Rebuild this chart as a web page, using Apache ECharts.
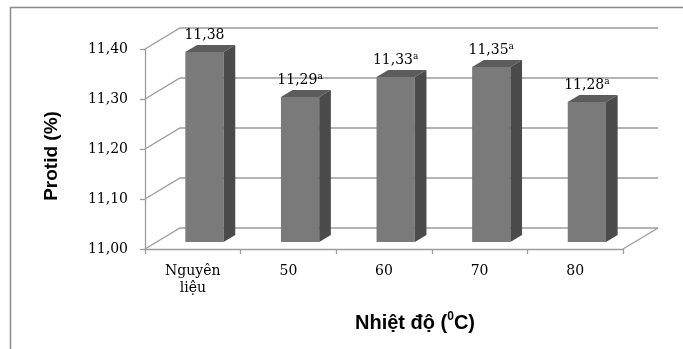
<!DOCTYPE html>
<html>
<head>
<meta charset="utf-8">
<script src="https://cdn.jsdelivr.net/npm/echarts@6/dist/echarts.min.js"></script>
<style>
  html, body { margin: 0; padding: 0; background: #fff; }
  #chart { width: 683px; height: 349px; }
</style>
</head>
<body>
<div id="chart"></div>
<script>
// Protein content of the product at each drying temperature
const categories = ['Nguyên\nliệu', '50', '60', '70', '80'];
const protid = [11.38, 11.29, 11.33, 11.35, 11.28];
const significance = ['', 'a', 'a', 'a', 'a'];
const yTicks = [11.0, 11.1, 11.2, 11.3, 11.4];

// pseudo-3D depth of the plot box (pixels to the back wall)
const DX = 35, DY = -21;
const SERIF = '"DejaVu Serif", "Liberation Serif", serif';
const SANS = '"Liberation Sans", Arial, sans-serif';
const GRID_COLOR = '#9c9c9c';

const fmt = v => v.toFixed(2).replace('.', ',');

function renderWall(params, api) {
  const cs = params.coordSys;
  const v = api.value(1);
  const y = api.coord([0, v])[1];
  const x0 = cs.x, x1 = cs.x + cs.width;
  const children = [{
    type: 'polyline',
    shape: { points: [[x0, y], [x0 + DX, y + DY], [x1 + DX, y + DY]] },
    style: { stroke: GRID_COLOR, lineWidth: 1.3, fill: null }
  }];
  if (params.dataIndex === 0) {
    children.push({
      type: 'line',
      shape: { x1: x1, y1: y, x2: x1 + DX, y2: y + DY },
      style: { stroke: GRID_COLOR, lineWidth: 1.3 }
    });
  }
  return { type: 'group', children };
}

function renderBar(params, api) {
  const idx = api.value(0);
  const v = api.value(1);
  const top = api.coord([idx, v]);
  const base = api.coord([idx, yTicks[0]]);
  const band = api.size([1, 0])[0];
  const bw = band * 0.4;
  // bar sits in the middle third of the depth
  const ox = DX / 3, oy = DY / 3;
  const L = top[0] - bw / 2 + ox, R = top[0] + bw / 2 + ox;
  const T = top[1] + oy, B = base[1] + oy;
  const sup = significance[idx];
  return {
    type: 'group',
    children: [
      { type: 'rect', shape: { x: L, y: T, width: bw, height: B - T },
        style: { fill: '#7a7a7a' } },
      { type: 'polygon', shape: { points: [[L, T], [R, T], [R + ox, T + oy], [L + ox, T + oy]] },
        style: { fill: '#5c5c5c' } },
      { type: 'polygon', shape: { points: [[R, T], [R + ox, T + oy], [R + ox, B + oy], [R, B]] },
        style: { fill: '#4b4b4b' } },
      { type: 'text',
        style: {
          x: (L + R) / 2, y: T + oy - 2,
          align: 'center', verticalAlign: 'bottom',
          text: '{v|' + fmt(v) + '}' + (sup ? '{s|' + sup + '}' : ''),
          rich: {
            v: { fontFamily: SERIF, fontSize: 14, lineHeight: 16, fill: '#000' },
            s: { fontFamily: SERIF, fontSize: 9, lineHeight: 16, verticalAlign: 'top', fill: '#000', padding: [0, 0, 6, 0] }
          }
        } }
    ]
  };
}

const chart = echarts.init(document.getElementById('chart'), null, { renderer: 'canvas' });
chart.setOption({
  animation: false,
  backgroundColor: '#fff',
  grid: { left: 145, top: 49, width: 478, height: 200, containLabel: false },
  xAxis: {
    type: 'category',
    data: categories,
    axisLine: { show: true, lineStyle: { color: GRID_COLOR, width: 1.3 } },
    axisTick: { show: true, length: 5, lineStyle: { color: GRID_COLOR, width: 1.3 } },
    axisLabel: { fontFamily: SERIF, fontSize: 14, color: '#000', margin: 14, lineHeight: 17 },
    splitLine: { show: false }
  },
  yAxis: {
    type: 'value',
    min: 11.0,
    max: 11.4,
    interval: 0.1,
    axisLine: { show: true, lineStyle: { color: GRID_COLOR, width: 1.3 } },
    axisTick: { show: true, length: 5, lineStyle: { color: GRID_COLOR, width: 1.3 } },
    axisLabel: { fontFamily: SERIF, fontSize: 14, color: '#000', margin: 17, formatter: fmt },
    splitLine: { show: false }
  },
  graphic: [
    { type: 'rect', z: -1, shape: { x: 10.5, y: 7.5, width: 700, height: 400 },
      style: { fill: null, stroke: '#8a8a8a', lineWidth: 1.5 } },
    { type: 'text', rotation: Math.PI / 2, x: 52, y: 156,
      style: { text: 'Protid (%)', fontFamily: SANS, fontWeight: 'bold', fontSize: 19,
               fill: '#000', align: 'center', verticalAlign: 'middle' } },
    { type: 'text', x: 415, y: 323,
      style: {
        text: '{t|Nhiệt độ (}{s|0}{t|C)}',
        align: 'center', verticalAlign: 'middle',
        rich: {
          t: { fontFamily: SANS, fontWeight: 'bold', fontSize: 20, lineHeight: 24, fill: '#000' },
          s: { fontFamily: SANS, fontWeight: 'bold', fontSize: 12, lineHeight: 24, verticalAlign: 'top', fill: '#000', padding: [0, 0, 8, 0] }
        }
      } }
  ],
  series: [
    {
      type: 'custom',
      z: 1,
      renderItem: renderWall,
      data: yTicks.map(v => [0, v]),
      silent: true
    },
    {
      type: 'custom',
      z: 3,
      renderItem: renderBar,
      data: protid.map((v, i) => [i, v])
    }
  ]
});
</script>
</body>
</html>
